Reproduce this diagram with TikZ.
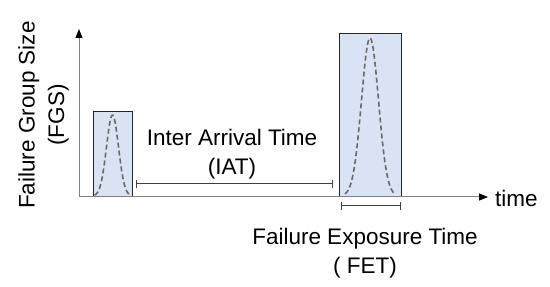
\documentclass[tikz,border=0pt]{standalone}
\usepackage{fontspec}
\setmainfont{Liberation Sans}
\usepackage{tikz}
\usetikzlibrary{arrows.meta}
\definecolor{boxB}{RGB}{218,227,243}
\definecolor{axisG}{RGB}{128,128,128}
\definecolor{curveG}{RGB}{105,105,105}

\begin{document}
\begin{tikzpicture}[x=1pt, y=1pt,
  lbl/.style={font=\fontsize{22.5}{29.5}\selectfont, align=center, inner sep=0pt},
  win/.style={draw=black!85, line width=1pt, fill=boxB, inner sep=0pt, anchor=south west},
  span/.style={draw=black!75, line width=1pt, {Bar[width=8pt]}-{Bar[width=8pt]}},
  pulse/.style={curveG, line width=1.6pt, dash pattern=on 5pt off 3pt}]
\useasboundingbox (0,0) rectangle (550,287);
% axes
\coordinate (O) at (79,90);
\coordinate (ytop) at (79,258);
\coordinate (xend) at (488,90);
% exposure windows
\node[win, minimum width=39pt, minimum height=85pt] (early) at (93,90) {};
\node[win, minimum width=62pt, minimum height=163pt] (late) at (339,90) {};
\draw[axisG, line width=1pt, -{Triangle[black, length=9pt, width=7pt]}] (O) -- (ytop);
\draw[axisG, line width=1pt, -{Triangle[black, length=9pt, width=7pt]}] (O) -- (xend);
% failure pulses
\draw[pulse] plot[domain=-18:18, samples=60, smooth] ({112.5+\x},{91+81*exp(-(\x*\x)/72)});
\draw[pulse] plot[domain=-25:25, samples=80, smooth] ({370+\x},{91+158*exp(-(\x*\x)/144.5)});
% spans
\coordinate (iatL) at (136,103);
\coordinate (iatR) at (333,103);
\coordinate (fetL) at (341,81);
\coordinate (fetR) at (401,81);
\draw[span] (iatL) -- (iatR);
\draw[span] (fetL) -- (fetR);
% labels
\node[lbl] (iat) at (232,133) {Inter Arrival Time\\(IAT)};
\node[lbl] (fet) at (365,34) {Failure Exposure Time\\( FET)};
\node[lbl, anchor=base west] (t) at (495,80) {time};
\node[lbl, rotate=90] (fgs) at (43.5,172) {Failure Group Size\\(FGS)};
\end{tikzpicture}
\end{document}
